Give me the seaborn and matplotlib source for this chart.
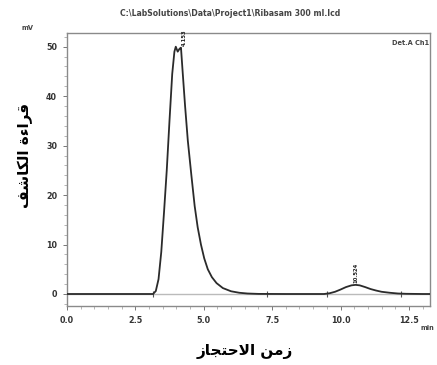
import matplotlib
matplotlib.use("Agg")
import matplotlib.pyplot as plt
import seaborn as sns
import pandas as pd
from matplotlib.ticker import MultipleLocator

# ---- data ----
time_min = [0.0, 1.0, 2.0, 3.0, 3.15, 3.25, 3.35, 3.45, 3.55, 3.65, 3.75, 3.85,
            3.93, 3.98, 4.05, 4.12, 4.17, 4.23, 4.32, 4.42, 4.55, 4.67, 4.78,
            4.90, 5.02, 5.15, 5.30, 5.47, 5.70, 6.00, 6.30, 6.60, 7.00, 8.00,
            9.00, 9.40, 9.60, 9.80, 10.00, 10.20, 10.40, 10.55, 10.70, 10.90,
            11.10, 11.30, 11.50, 11.80, 12.10, 12.40, 13.00, 13.30]
signal_mv = [0.0, 0.0, 0.0, 0.0, 0.0, 0.6, 3.0, 8.5, 16.5, 25.0, 35.0, 44.5,
             49.0, 50.0, 49.0, 49.6, 49.8, 45.0, 38.0, 31.0, 24.0, 17.8, 13.5,
             10.0, 7.2, 5.0, 3.4, 2.2, 1.2, 0.55, 0.25, 0.1, 0.02, 0.0,
             0.0, 0.0, 0.15, 0.45, 0.9, 1.4, 1.75, 1.85, 1.75, 1.4,
             1.0, 0.7, 0.45, 0.25, 0.1, 0.04, 0.0, 0.0]
event_times = [3.15, 7.3, 9.5, 12.2]
peak_times = [4.28, 10.55]
peak_labels = ["4.153", "10.524"]
peak_label_y = [50.2, 2.3]
x_ticks = [0.0, 2.5, 5.0, 7.5, 10.0, 12.5]
y_ticks = [0, 10, 20, 30, 40, 50]

title_text = r"C:\LabSolutions\Data\Project1\Ribasam 300 ml.lcd"
# Arabic labels (presentation forms, visual order for left-to-right rendering)
x_label = "\uFEAF\uFE8E\uFEA0\uFE98\uFEA3\uFEFB\uFE8D \uFEE6\uFEE3\uFEAF"      # زمن الاحتجاز
y_label = "\uFED2\uFEB7\uFE8E\uFEDC\uFEDF\uFE8D \uFE93\uFE80\uFE8D\uFEAE\uFED7"  # قراءة الكاشف

df = pd.DataFrame({"time": time_min, "signal": signal_mv})

sns.set_style("white")
plt.rcParams["font.family"] = ["DejaVu Sans"]

fig = plt.figure(figsize=(4.37, 3.65), dpi=100)
ax = fig.add_axes([0.153, 0.162, 0.831, 0.748])

ax.axhline(0, color="#bbbbbb", lw=1.0, zorder=1)
sns.lineplot(data=df, x="time", y="signal", ax=ax, color="#2b2b2b", lw=1.3,
             estimator=None, sort=False, zorder=3)

# integration event marks
ev = pd.DataFrame({"t": event_times, "v": [0.0] * len(event_times)})
ax.plot(ev["t"], ev["v"], ls="none", marker="|", ms=5, mew=0.8, color="#555555", zorder=2)

for t, lab, yy in zip(peak_times, peak_labels, peak_label_y):
    ax.text(t, yy, lab, rotation=90, fontsize=3.8, fontweight="bold", color="#222222",
            ha="center", va="bottom", clip_on=False)

ax.set_xlim(0.0, 13.27)
ax.set_ylim(-2.4, 52.8)
ax.set_xticks(x_ticks)
ax.set_xticklabels([f"{v:.1f}" for v in x_ticks])
ax.set_yticks(y_ticks)
ax.xaxis.set_minor_locator(MultipleLocator(0.5))
ax.yaxis.set_minor_locator(MultipleLocator(2))
ax.tick_params(axis="both", which="major", length=3, width=0.7, color="#777777",
               labelsize=5.8, labelcolor="#333333", pad=4)
ax.tick_params(axis="both", which="minor", length=2, width=0.5, color="#999999")
ax.tick_params(axis="both", which="both", direction="out", bottom=True, left=True)
for lab in ax.get_xticklabels() + ax.get_yticklabels():
    lab.set_fontweight("bold")
for sp in ax.spines.values():
    sp.set_visible(True)
    sp.set_color("#8a8a8a")
    sp.set_linewidth(1.0)

ax.set_xlabel("")
ax.set_ylabel("")

fig.text(0.527, 0.962, title_text, fontsize=5.6, fontweight="bold", color="#444444",
         ha="center", va="center")
fig.text(0.062, 0.922, "mV", fontsize=4.8, fontweight="bold", color="#444444",
         ha="center", va="center")
ax.text(0.998, 0.975, "Det.A Ch1", transform=ax.transAxes, fontsize=4.8,
        fontweight="bold", color="#444444", ha="right", va="top")
fig.text(0.978, 0.102, "min", fontsize=4.8, fontweight="bold", color="#444444",
         ha="center", va="center")

fig.text(0.56, 0.036, x_label, fontsize=11, fontweight="bold", color="black",
         ha="center", va="center")
fig.text(0.057, 0.575, y_label, fontsize=11, fontweight="bold", color="black",
         ha="center", va="center", rotation=90)

fig.savefig("out.png", dpi=100)
